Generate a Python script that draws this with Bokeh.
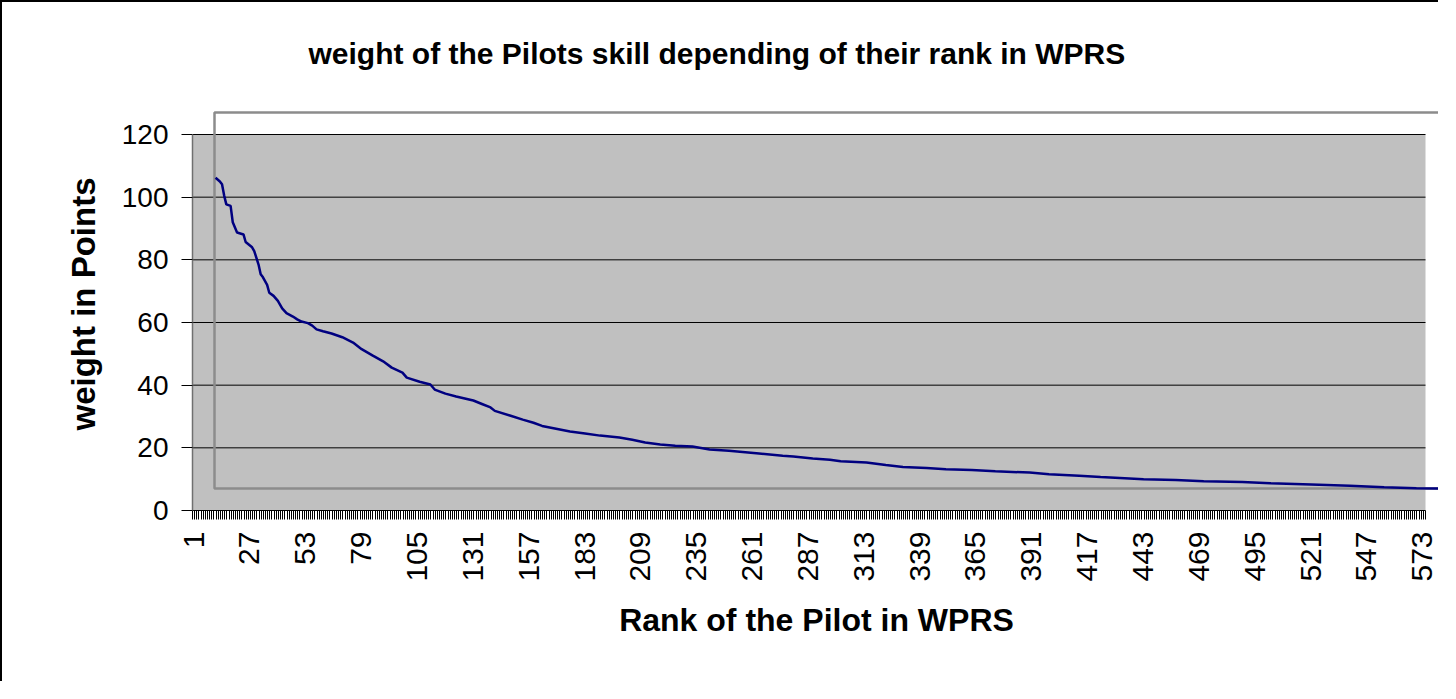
import math
from bokeh.plotting import figure
from bokeh.models import Range1d, FixedTicker
from bokeh.embed import file_html
from bokeh.resources import INLINE

# ---------------- data ----------------
ranks = [1, 3, 4, 5, 6, 8, 9, 11, 14, 15, 18, 19, 21, 22, 23, 25, 26, 28, 30, 32,
         34, 37, 39, 41, 44, 46, 48, 51, 55, 60, 65, 69, 74, 79, 83, 88, 90, 96,
         101, 103, 108, 113, 121, 125, 129, 131, 138, 144, 149, 153, 166, 173,
         180, 189, 195, 201, 208, 215, 223, 231, 240, 254, 265, 270, 279, 287,
         292, 304, 313, 321, 332, 341, 353, 364, 380, 389, 403, 413, 422, 433,
         448, 461, 479, 492, 511, 529, 545, 560, 574]
weights = [106.2, 105.0, 104.1, 100.5, 97.7, 97.2, 92.0, 88.7, 88.1, 85.7, 84.0,
           82.8, 78.5, 75.4, 74.5, 72.0, 69.5, 68.5, 66.9, 64.5, 63.0, 61.9, 61.0,
           60.3, 59.8, 59.0, 57.8, 57.2, 56.5, 55.3, 53.6, 51.5, 49.5, 47.6, 45.6,
           44.0, 42.4, 41.1, 40.2, 38.6, 37.3, 36.4, 35.1, 34.0, 32.9, 31.8, 30.3,
           29.0, 28.0, 27.0, 25.2, 24.6, 23.9, 23.3, 22.6, 21.7, 21.1, 20.7, 20.4,
           19.5, 19.1, 18.2, 17.5, 17.2, 16.6, 16.2, 15.7, 15.3, 14.5, 13.9, 13.6,
           13.2, 12.9, 12.5, 12.1, 11.6, 11.1, 10.7, 10.4, 10.0, 9.7, 9.3, 9.1,
           8.7, 8.3, 7.9, 7.4, 7.1, 7.0]
n_ranks = 574
rank_labels = [1, 27, 53, 79, 105, 131, 157, 183, 209, 235, 261, 287, 313, 339,
               365, 391, 417, 443, 469, 495, 521, 547, 573]
y_ticks = [0, 20, 40, 60, 80, 100, 120]

TITLE = "weight of the Pilots skill depending of their rank in WPRS"
X_TITLE = "Rank of the Pilot in WPRS"
Y_TITLE = "weight in Points"

# ---------------- layout ----------------
FONT = "Liberation Sans"
W, H = 1438, 681
LEFT, TOP, BOTTOM = 190, 95, 173
FRAME_W = W - LEFT
FRAME_H = H - TOP - BOTTOM
PLOT_PX = 1233.0          # width of the grey plot area in px
PLOT_PY = 376.0           # height of the 0..120 span in px
PX_X = PLOT_PX / n_ranks
PX_Y = PLOT_PY / y_ticks[-1]
GHOST = 22                # displaced outline (px right and up)

x0 = 0.5
x_end = x0 + FRAME_W / PX_X
y_end = FRAME_H / PX_Y

p = figure(width=W, height=H, output_backend="svg", toolbar_location=None,
           x_range=Range1d(x0, x_end), y_range=Range1d(0, y_end),
           min_border_left=LEFT, min_border_right=0, min_border_top=TOP,
           min_border_bottom=BOTTOM, title=TITLE,
           background_fill_color="white", border_fill_color="white",
           styles={"border-left": "2px solid black", "border-top": "2px solid black"})
p.extra_x_ranges = {"ghost": Range1d(x0 - GHOST / PX_X, x_end - GHOST / PX_X)}
p.extra_y_ranges = {"ghost": Range1d(-GHOST / PX_Y, y_end - GHOST / PX_Y)}

p.outline_line_color = None
p.xgrid.visible = False
p.ygrid.visible = False

# grey plot area
p.quad(left=0.5, right=n_ranks + 0.5, bottom=0, top=y_ticks[-1],
       fill_color="#C0C0C0", line_color=None)
# horizontal gridlines
g = y_ticks[1:]
p.segment(x0=[0.5] * len(g), y0=g, x1=[n_ranks + 0.5] * len(g), y1=g,
          line_color="black", line_width=1)
# displaced outline of the plot area
p.quad(left=0.5, right=n_ranks + 0.5, bottom=0, top=y_ticks[-1],
       fill_color=None, line_color="#8c8c8c", line_width=2.5,
       x_range_name="ghost", y_range_name="ghost")
# series
p.line(ranks, weights, line_color="#000080", line_width=2.5,
       x_range_name="ghost")

# title
p.title.text_font = FONT
p.title.text_font_size = "30px"
p.title.text_font_style = "bold"
p.title.text_color = "black"
p.title.align = "left"
p.title.offset = 116
p.title.standoff = 56

# x axis
xa = p.xaxis[0]
xa.ticker = FixedTicker(ticks=rank_labels,
                        minor_ticks=[i + 0.5 for i in range(n_ranks + 1)])
xa.bounds = (0.5, n_ranks + 0.5)
xa.axis_line_color = "black"
xa.axis_line_width = 1
xa.major_tick_line_color = None
xa.major_tick_out = 9
xa.major_tick_in = 0
xa.minor_tick_line_color = "black"
xa.minor_tick_line_width = 1
xa.minor_tick_out = 9
xa.minor_tick_in = 0
xa.major_label_orientation = math.pi / 2
xa.major_label_text_font = FONT
xa.major_label_text_font_size = "30px"
xa.major_label_text_color = "black"
xa.major_label_standoff = 12
xa.axis_label = X_TITLE
xa.axis_label_text_font = FONT
xa.axis_label_text_font_size = "32px"
xa.axis_label_text_font_style = "bold"
xa.axis_label_text_color = "black"
xa.axis_label_standoff = 17

# y axis
ya = p.yaxis[0]
ya.ticker = FixedTicker(ticks=y_ticks)
ya.bounds = (0, y_ticks[-1])
ya.axis_line_color = "#707070"
ya.axis_line_width = 1.5
ya.major_tick_line_color = "black"
ya.major_tick_out = 11
ya.major_tick_in = 0
ya.minor_tick_line_color = None
ya.major_label_text_font = FONT
ya.major_label_text_font_size = "28px"
ya.major_label_text_color = "black"
ya.major_label_standoff = 13
ya.axis_label = Y_TITLE
ya.axis_label_text_font = FONT
ya.axis_label_text_font_size = "33px"
ya.axis_label_text_font_style = "bold"
ya.axis_label_text_color = "black"
ya.axis_label_standoff = 17

open("out.html", "w").write(file_html(p, INLINE, title="chart"))
